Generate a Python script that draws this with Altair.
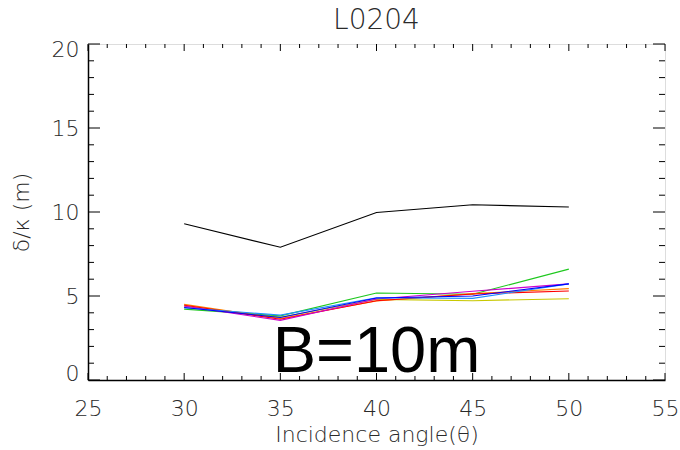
import altair as alt
import pandas as pd

angles = [30, 35, 40, 45, 50]
black = [9.3, 7.9, 9.97, 10.43, 10.3]
green = [4.22, 3.82, 5.18, 5.1, 6.6]
magenta = [4.4, 3.55, 4.82, 5.28, 5.72]
blue = [4.32, 3.72, 4.88, 5.0, 5.72]
cyan = [4.3, 3.86, 4.9, 4.86, 5.72]
red = [4.45, 3.62, 4.72, 5.12, 5.3]
orange = [4.5, 3.66, 4.7, 5.14, 5.44]
yellow = [4.4, 3.74, 4.8, 4.72, 4.84]

series = {"black": black, "yellow": yellow, "green": green, "orange": orange,
          "red": red, "magenta": magenta, "cyan": cyan, "blue": blue}
colors = {"black": "#000000", "yellow": "#c8c800", "green": "#1ec81e", "orange": "#ff7f00",
          "red": "#ff0000", "magenta": "#cc00cc", "cyan": "#1e90ff", "blue": "#0000ff"}

x_major = [25, 30, 35, 40, 45, 50, 55]
x_minor = [v for v in range(25, 56) if v % 5 != 0]
y_major = [0, 5, 10, 15, 20]
y_minor = [v for v in range(0, 21) if v % 5 != 0]

rows = []
for i, (name, vals) in enumerate(series.items()):
    for a, v in zip(angles, vals):
        rows.append({"angle": a, "val": v, "series": name, "order": i})
df = pd.DataFrame(rows)

W, H = 577, 336
xs = alt.Scale(domain=[25, 55], nice=False, zero=False)
ys = alt.Scale(domain=[0, 20], nice=False)

font = "DejaVu Sans"
lab_color = "#2a2a2a"

lines = alt.Chart(df).mark_line(strokeWidth=1.1).encode(
    x=alt.X("angle:Q", scale=xs,
            axis=alt.Axis(values=x_major, tickSize=0, labelPadding=18, labelFontSize=22,
                          labelFont=font, labelColor=lab_color, labelFontWeight=200,
                          labelFlush=False,
                          title="Incidence angle(θ)", titleFont=font, titleFontSize=22,
                          titleFontWeight=200, titleColor=lab_color, titlePadding=5,
                          domainColor="black", domainWidth=1.5, grid=False)),
    y=alt.Y("val:Q", scale=ys,
            axis=alt.Axis(values=y_major, tickSize=0, labelPadding=9, labelFontSize=22,
                          labelFont=font, labelColor=lab_color, labelFontWeight=200,
                          labelFlush=True, labelFlushOffset=5,
                          title="δ/κ (m)", titleFont=font, titleFontSize=22,
                          titleFontWeight=200, titleColor=lab_color, titlePadding=18,
                          domainColor="black", domainWidth=1.5, grid=False)),
    color=alt.Color("series:N", scale=alt.Scale(domain=list(colors.keys()),
                                                range=list(colors.values())), legend=None),
    order="order:Q",
)

xmaj_df = pd.DataFrame({"v": x_major})
xmin_df = pd.DataFrame({"v": x_minor})
ymaj_df = pd.DataFrame({"v": y_major})
ymin_df = pd.DataFrame({"v": y_minor})

def xticks(d, length):
    b = alt.Chart(d).mark_rule(color="black", strokeWidth=1)
    bottom = b.encode(x=alt.X("v:Q", scale=xs), y=alt.value(H), y2=alt.value(H - length))
    top = b.encode(x=alt.X("v:Q", scale=xs), y=alt.value(0), y2=alt.value(length))
    return bottom + top

def yticks(d, length):
    b = alt.Chart(d).mark_rule(color="black", strokeWidth=1)
    left = b.encode(y=alt.Y("v:Q", scale=ys), x=alt.value(0), x2=alt.value(length))
    right = b.encode(y=alt.Y("v:Q", scale=ys), x=alt.value(W), x2=alt.value(W - length))
    return left + right

label_df = pd.DataFrame({"x": [40], "y": [0.47], "t": ["B=10m"]})
label = alt.Chart(label_df).mark_text(fontSize=65, font="Liberation Sans", color="black",
                                      baseline="alphabetic", align="center").encode(
    x=alt.X("x:Q", scale=xs), y=alt.Y("y:Q", scale=ys), text="t:N")

chart = alt.layer(
    lines, xticks(xmaj_df, 7), xticks(xmin_df, 4), yticks(ymaj_df, 12), yticks(ymin_df, 6), label
).properties(
    width=W, height=H,
    title=alt.TitleParams("L0204", font=font, fontSize=28, fontWeight=200, color=lab_color,
                          offset=12, anchor="middle", dy=9),
    autosize=alt.AutoSizeParams(type="none"),
    padding={"left": 88, "top": 44, "right": 15, "bottom": 70},
).configure_view(stroke="black", strokeWidth=1.5).configure(background="white")

chart.save("out.html", embed_options={"renderer": "svg", "actions": False})
